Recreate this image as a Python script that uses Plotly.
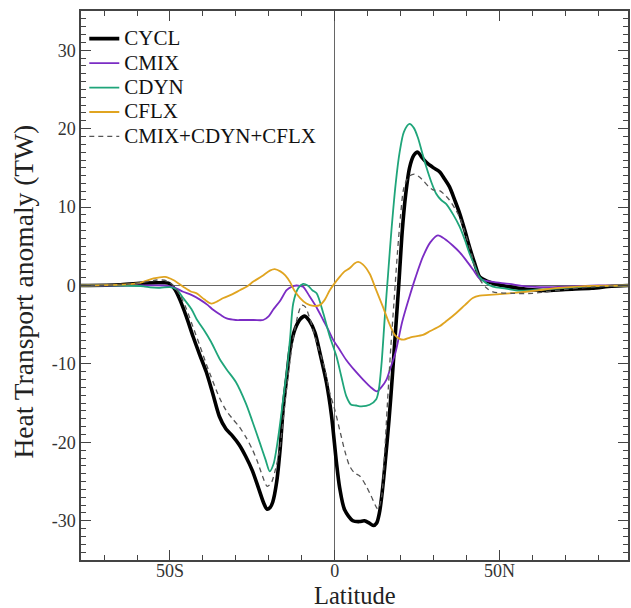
import plotly.graph_objects as go

# ---- data ----
cycl_lat = [-77, -65, -58, -53, -50.5, -48.5, -47, -45, -43, -41, -39, -37, -35, -33, -31, -29,
            -27, -25, -23, -21.5, -20.6, -19.6, -18.8, -17.6, -16.6, -15.6, -14.5, -13.5, -12, -10.5,
            -9.1, -7.7, -6, -4.5, -2.5, -1, 0.5, 1.5, 3, 5.5, 7.5, 9, 10.5, 11.7, 12.7, 13.6, 14.5, 15.3,
            16.5, 17.5, 18.5, 19.5, 20.5, 21.5, 22.7, 24, 25.2, 26.5, 27.8, 30, 31.8, 33.3, 34.8, 36.5, 37.9,
            39.5, 40.9, 42.5, 44, 46, 48, 52, 56, 60, 64, 70, 78, 84, 89]
cycl_val = [0.0, 0.1, 0.3, 0.35, 0.3, -0.5, -1.8, -4.0, -6.5, -8.8, -11.0, -13.8, -16.7, -18.3, -19.2, -20.3,
            -21.8, -23.6, -26.0, -27.8, -28.5, -28.3, -27.6, -25.0, -21.0, -15.5, -11.5, -8.0, -5.5, -4.3,
            -3.9, -4.5, -6.0, -8.6, -12.4, -16.5, -22.5, -25.8, -28.6, -30.0, -30.1, -30.0, -30.3, -30.6, -30.3, -28.9, -26.0, -22.6,
            -17.0, -11.5, -5.5, 0.5, 7.0, 11.5, 15.0, 16.6, 17.0, 16.3, 15.7, 15.0, 14.5, 13.6, 12.6, 10.8, 9.2,
            7.0, 4.9, 2.8, 1.1, 0.6, 0.3, -0.1, -0.35, -0.55, -0.65, -0.5, -0.35, -0.1, 0.0]

cmix_lat = [-77, -60, -52, -49, -46, -43.5, -40.9, -38.5, -36.9, -34.8, -32.8, -30, -28.8, -24.5, -21.7, -20,
            -18.7, -16.5, -14.6, -13, -11.6, -10.6, -9.6, -7.6, -5.5, -3.5, -2, -0.5, 1.5, 3.5, 6, 8.6, 11, 12.8,
            14.3, 15.7, 17, 18.4, 20.5, 22.7, 24.5, 26.8, 29, 31.3, 33.5, 35.8, 38, 39.9, 42, 43.9, 46, 48, 53,
            58, 64, 72, 80, 89]
cmix_val = [0.0, 0.0, 0.0, -0.2, -0.8, -1.2, -1.8, -2.5, -3.1, -3.7, -4.2, -4.4, -4.4, -4.4, -4.4, -3.9,
            -3.1, -1.9, -0.6, -0.15, 0.0, -0.05, -0.15, -1.4, -2.8, -4.4, -5.6, -6.9, -8.2, -9.5, -10.8, -12.0, -13.0, -13.5,
            -12.9, -12.0, -10.4, -8.6, -4.6, -1.4, 1.0, 3.7, 5.5, 6.4, 5.9, 5.1, 4.2, 3.2, 2.0, 0.9, 0.6, 0.45, 0.2,
            -0.1, -0.2, -0.1, 0.0, 0.0]

cdyn_lat = [-77, -65, -58, -56, -53, -50, -48, -46, -43.5, -41.9, -39.5, -37.5, -35, -32.8, -30, -27, -25, -22.7,
            -21, -19.7, -18.6, -17.7, -16.7, -15.5, -14.5, -13.5, -12.6, -11.1, -9.6, -8.2, -6.8, -5.5, -3.5, -1.5,
            0.5, 2, 3.5, 5, 6.5, 8.1, 10.6, 12.6, 13.4, 14.2, 15.2, 16.2, 17.2, 18.5, 19.7, 21, 22.7, 24, 25.2, 26.5,
            27.8, 29.3, 30.8, 32.3, 33.8, 36, 37.9, 39.5, 40.9, 42.5, 43.9, 46, 48, 52, 56, 60, 64, 70, 78, 89]
cdyn_val = [0.0, 0.0, -0.1, -0.25, -0.3, -0.2, -0.5, -1.6, -3.0, -4.3, -5.8, -7.2, -9.3, -10.7, -12.3, -15.0, -17.3, -20.1,
            -22.2, -23.7, -22.8, -20.9, -18.0, -14.0, -10.7, -6.5, -2.3, -0.35, 0.2, 0.0, -0.6, -1.0, -3.5, -6.5,
            -9.0, -11.6, -14.1, -15.2, -15.3, -15.4, -15.2, -14.5, -13.2, -10.0, -4.0, 1.5, 7.0, 13.0, 17.0, 19.6, 20.6, 20.1, 18.9, 17.0,
            15.1, 13.2, 11.7, 10.9, 10.4, 9.0, 7.5, 5.8, 4.1, 2.5, 1.1, 0.3, -0.15, -0.4, -0.65, -0.6, -0.5, -0.3, -0.1, 0.0]

cflx_lat = [-77, -65, -59, -55, -51.5, -49, -46, -43.5, -41.9, -39.5, -37.4, -35.5, -33.8, -31, -28.8, -26.5,
            -24.7, -22, -19.7, -18.2, -16.5, -15, -13.5, -12.3, -10.5, -8.6, -6.5, -4.5, -3, -1.5, 0, 1.5, 3, 4.5,
            6, 7.1, 8.5, 10.6, 12.5, 14.6, 16.5, 18.2, 19.7, 21, 23, 26.8, 29, 31.8, 34, 36.9, 39.5, 41.9, 44, 47,
            53, 58, 62, 68, 75, 89]
cflx_val = [0.0, 0.1, 0.35, 0.9, 1.1, 0.7, -0.15, -0.8, -1.0, -1.8, -2.3, -2.0, -1.6, -1.1, -0.6, -0.1,
            0.5, 1.2, 1.9, 2.1, 1.8, 1.3, 0.4, -0.6, -1.6, -2.3, -2.6, -2.5, -1.8, -0.6, 0.3, 1.1, 1.8, 2.2,
            2.8, 3.0, 2.7, 1.5, -0.5, -2.7, -4.8, -6.3, -6.8, -6.9, -6.6, -6.3, -5.8, -5.2, -4.5, -3.5, -2.5, -1.6, -1.3, -1.2,
            -1.0, -0.8, -0.6, -0.3, -0.1, 0.0]

sum_lat = [-77, -65, -58, -54, -51, -49, -47, -45, -43, -41, -39, -37, -35, -33, -31, -29, -27, -25,
           -23.5, -22, -20.5, -19.3, -18.2, -16.7, -15.5, -14, -12.5, -11, -10, -9, -7.5, -5.5, -3, -1.5, 0, 1.5, 3,
           4.5, 6, 7.6, 9.6, 11, 13.1, 14.2, 15, 16, 17, 18, 19, 20, 21, 22.5, 24.2, 25.5, 26.8, 28.5, 29.8, 31.8,
           33.3, 34.8, 36.5, 37.9, 39.5, 40.9, 42.5, 44, 46, 48, 54, 60, 64, 70, 78, 89]
sum_val = [0.0, 0.1, 0.4, 0.7, 0.6, 0.0, -1.2, -3.0, -5.3, -7.6, -10.0, -12.2, -14.3, -15.9, -17.0, -18.0, -19.3, -20.9,
           -22.4, -24.2, -25.6, -25.2, -23.8, -20.9, -16.5, -11.0, -6.5, -3.5, -2.5, -2.7, -4.3, -7.2, -10.7, -13.7, -15.8, -18.4, -21.0,
           -23.0, -23.9, -24.3, -25.6, -26.8, -28.5, -27.0, -22.5, -15.0, -8.0, -2.0, 4.0, 9.0, 12.5, 13.9, 14.2, 13.9, 13.4, 12.6, 12.2, 12.1,
           11.6, 10.9, 9.8, 8.7, 6.8, 4.9, 2.6, 0.8, -0.3, -0.8, -1.0, -1.0, -0.8, -0.5, -0.2, 0.0]

series_names = ["CYCL", "CMIX", "CDYN", "CFLX", "CMIX+CDYN+CFLX"]

x_tickvals = [-50, 0, 50]
x_ticktext = ["50S", "0", "50N"]
y_tickvals = [-30, -20, -10, 0, 10, 20, 30]
y_ticktext = ["-30", "-20", "-10", "0", "10", "20", "30"]
x_title = "Latitude"
y_title = "Heat Transport anomaly (TW)"

FONT = "Liberation Serif"

fig = go.Figure()
series = [
    (series_names[0], cycl_lat, cycl_val, dict(color="#000000", width=3.6)),
    (series_names[1], cmix_lat, cmix_val, dict(color="#7b2cc4", width=1.8)),
    (series_names[2], cdyn_lat, cdyn_val, dict(color="#1fa57a", width=1.8)),
    (series_names[3], cflx_lat, cflx_val, dict(color="#e0a420", width=1.8)),
    (series_names[4], sum_lat, sum_val, dict(color="#555555", width=1.3, dash="5px,4px")),
]
for name, x, y, line in series:
    fig.add_trace(go.Scatter(x=x, y=y, mode="lines",
                             name='<span style="font-size:21px">' + name + '</span>',
                             line=dict(shape="spline", smoothing=0.8, **line)))

axis_common = dict(
    showline=True, linecolor="#444444", linewidth=1.5, mirror="ticks",
    ticks="inside", ticklen=10, tickwidth=1.3, tickcolor="#444444",
    showgrid=False, zeroline=True, zerolinecolor="#666666", zerolinewidth=1.2,
    tickfont=dict(family=FONT, size=18, color="#333333"),
    automargin=False,
)

fig.update_layout(
    width=631, height=608,
    margin=dict(l=81, r=3, t=11, b=48),
    paper_bgcolor="white", plot_bgcolor="white",
    font=dict(family=FONT, color="#222222"),
    showlegend=True,
    legend=dict(x=0.006, y=0.981, xanchor="left", yanchor="top",
                font=dict(family=FONT, size=16.5, color="#111111"),
                bgcolor="rgba(0,0,0,0)", itemwidth=30, tracegroupgap=0),
    xaxis=dict(range=[-77, 89], tickvals=x_tickvals, ticktext=x_ticktext, ticklabelstandoff=-6,
               minor=dict(ticks="inside", ticklen=5, tickwidth=1.2, tickcolor="#444444", dtick=10, tick0=0),
               **axis_common),
    yaxis=dict(range=[-35, 35], tickvals=y_tickvals, ticktext=y_ticktext,
               minor=dict(ticks="inside", ticklen=5, tickwidth=1.2, tickcolor="#444444", dtick=1, tick0=0),
               **axis_common),
    annotations=[
        dict(text=x_title, xref="paper", yref="paper", x=0.5, y=0,
             xanchor="center", yanchor="middle", yshift=-35, showarrow=False,
             font=dict(family=FONT, size=24.5, color="#222222")),
        dict(text=y_title, xref="paper", yref="paper", x=0, y=0.5, textangle=-90,
             xanchor="center", yanchor="middle", xshift=-58, yshift=-6, showarrow=False,
             font=dict(family=FONT, size=27.5, color="#222222")),
    ],
)

fig.write_html("out.html",
               config={"displayModeBar": False},
               post_script="document.body.style.margin='0px';document.body.style.overflow='hidden';")
